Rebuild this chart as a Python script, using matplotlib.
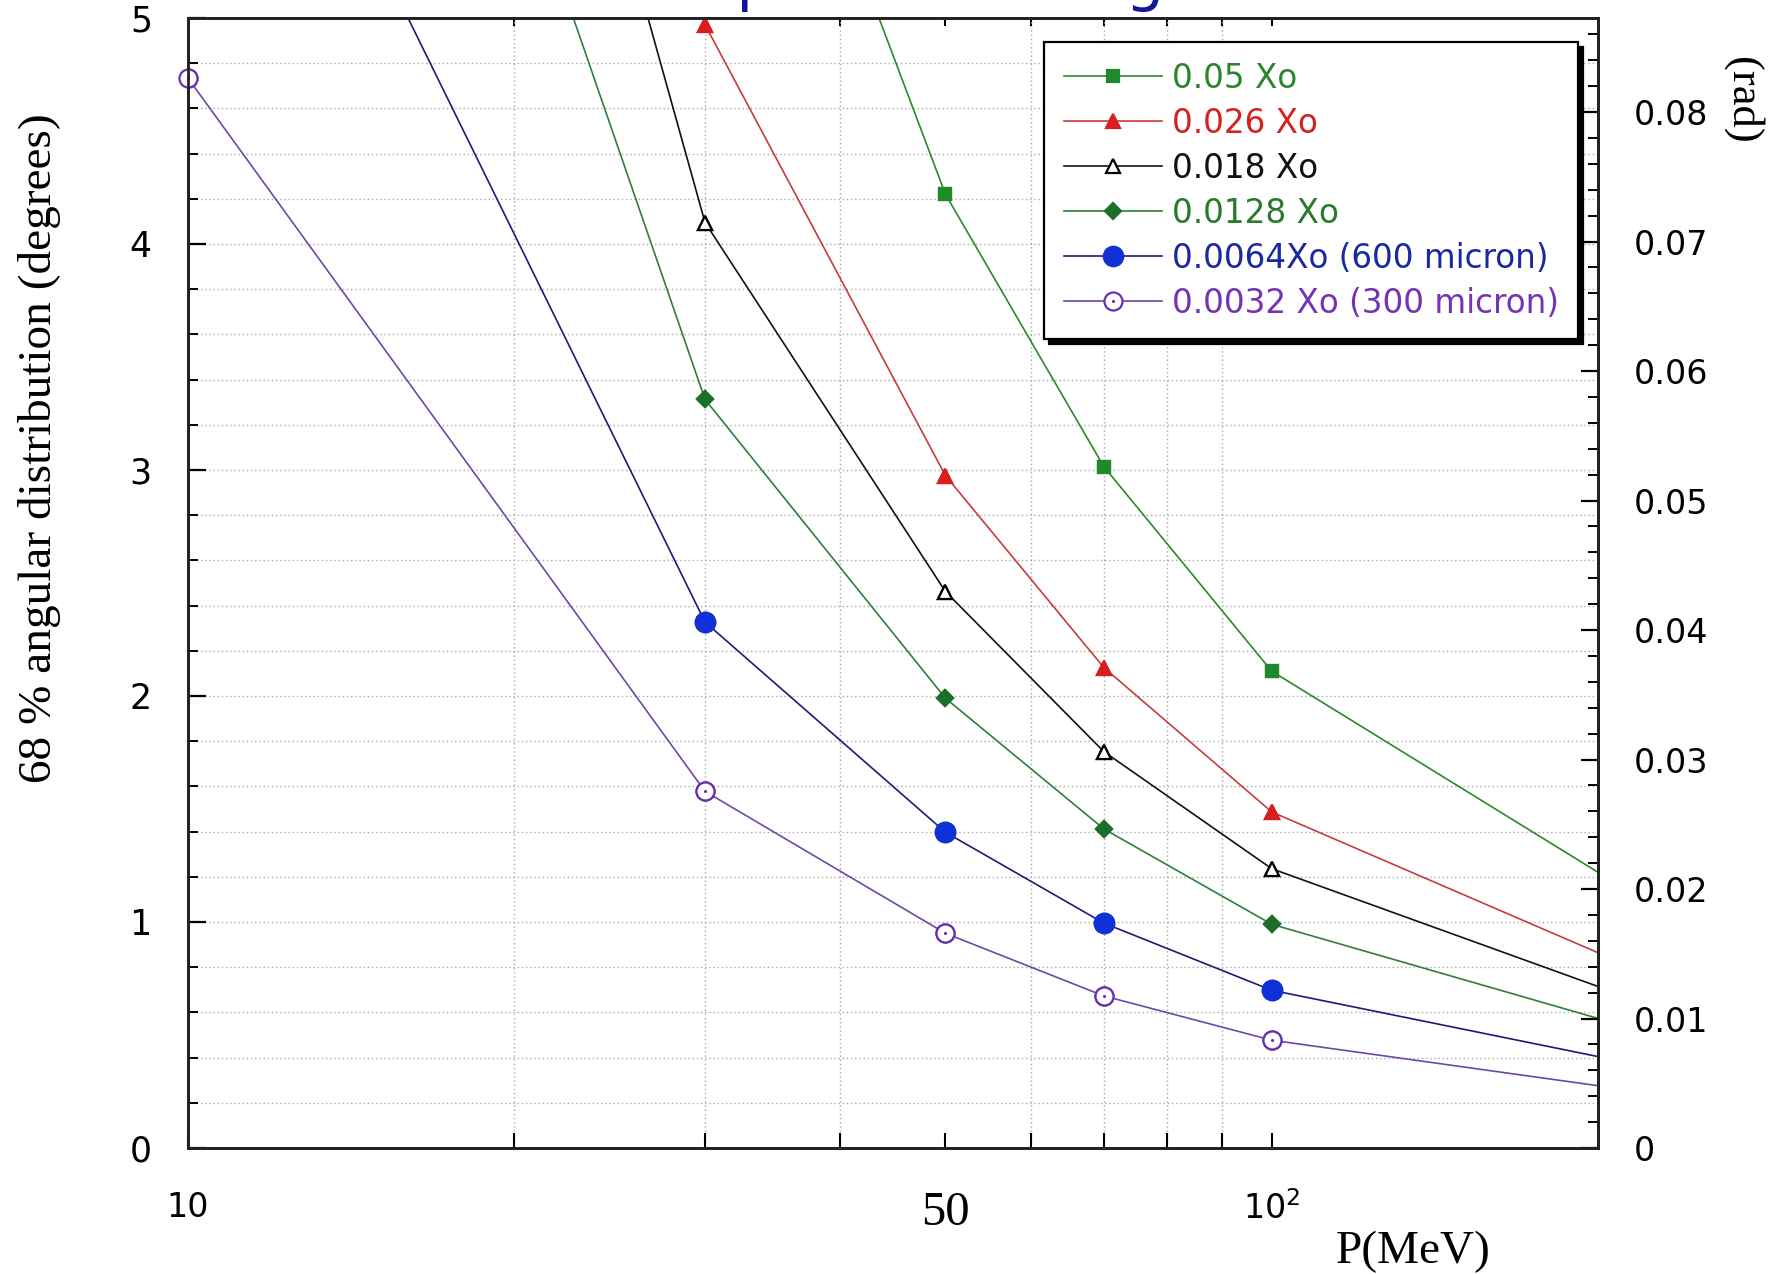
import numpy as np
import matplotlib
matplotlib.use("Agg")
import matplotlib.pyplot as plt
from matplotlib.ticker import FixedLocator, NullLocator, FuncFormatter

plt.rcParams['font.family'] = ['DejaVu Sans']
plt.rcParams['mathtext.default'] = 'regular'

# momentum points (MeV)
p_mev = [10, 30, 50, 70, 100, 300]

# 68% width of the angular distribution (degrees) per material thickness
th_0050 = [21.1, 7.04, 4.22, 3.015, 2.11, 0.70]
th_0026 = [14.9, 4.97, 2.975, 2.126, 1.487, 0.50]
th_0018 = [12.3, 4.095, 2.462, 1.754, 1.236, 0.41]
th_0128 = [9.94, 3.312, 1.99, 1.412, 0.99, 0.33]
th_0064 = [6.98, 2.327, 1.397, 0.995, 0.698, 0.233]
th_0032 = [4.734, 1.578, 0.95, 0.673, 0.477, 0.158]

labels = ['0.05 Xo', '0.026 Xo', '0.018 Xo', '0.0128 Xo',
          '0.0064Xo (600 micron)', '0.0032 Xo (300 micron)']

x_grid = [20, 30, 40, 50, 60, 70, 80, 90, 100]
x_lim = (10, 200)
y_lim = (0, 5)

fig = plt.figure(figsize=(17.8, 12.74), dpi=100)
ax = fig.add_axes([0.1056, 0.0989, 0.7921, 0.887])
ax.set_xscale('log')
ax.set_xlim(*x_lim)
ax.set_ylim(*y_lim)

styles = [
    dict(data=th_0050, color='#2a8a2a', marker='s', mfc='#1f8a2a', mec='#1f8a2a', ms=9, txt='#2a862a'),
    dict(data=th_0026, color='#c83c3c', marker='^', mfc='#d81e1e', mec='#d81e1e', ms=10, txt='#d42222'),
    dict(data=th_0018, color='#111111', marker='^', mfc='white', mec='black', ms=10, txt='#111111'),
    dict(data=th_0128, color='#2f7f3a', marker='D', mfc='#1d6e2a', mec='#1d6e2a', ms=8, txt='#2a7a2e'),
    dict(data=th_0064, color='#1c1c78', marker='o', mfc='#1030d8', mec='#1030d8', ms=14, txt='#1a2a9e'),
    dict(data=th_0032, color='#6e48a8', marker='o', mfc='white', mec='#6a30b0', ms=13, txt='#7434b4'),
]

px = np.array(p_mev, dtype=float)
handles = []
for st in styles:
    vals = np.array(st['data'])
    line, = ax.plot(px, vals, color=st['color'], lw=1.2, marker=st['marker'],
                    mfc=st['mfc'], mec=st['mec'], ms=st['ms'], mew=1.6, zorder=3)
    # markers that fall inside the frame are drawn unclipped so edge points stay whole
    inside = (px >= x_lim[0]) & (px <= x_lim[1]) & (vals <= y_lim[1])
    ax.plot(px[inside], vals[inside], ls='none', marker=st['marker'], mfc=st['mfc'],
            mec=st['mec'], ms=st['ms'], mew=1.6, clip_on=False, zorder=4)
    if st['data'] is th_0032:
        ax.plot(px[inside], vals[inside], ls='none', marker='.', ms=2.5,
                color=st['mec'], clip_on=False, zorder=5)
        dot, = ax.plot([], [], ls='none', marker='.', ms=2.5, color=st['mec'])
        handles.append((line, dot))
    else:
        handles.append(line)

# x axis: log scale, grid only on the 20..100 decade ticks
ax.xaxis.set_major_locator(FixedLocator([10, 50, 100]))
ax.xaxis.set_minor_locator(FixedLocator(x_grid))
ax.set_xticklabels(['10', '50', '$10^2$'])
ax.tick_params(axis='x', which='both', direction='in', length=11, width=1.5,
               pad=31, labelsize=24, top=False)
xl = ax.get_xticklabels()
xl[1].set_fontfamily('Liberation Serif')
xl[1].set_fontsize(35)

top = ax.secondary_xaxis('top')
top.xaxis.set_major_locator(FixedLocator(x_grid))
top.xaxis.set_minor_locator(NullLocator())
top.tick_params(direction='in', length=6, width=1.5, labeltop=False)

# y axis in degrees
ax.yaxis.set_major_locator(FixedLocator([0, 1, 2, 3, 4, 5]))
ax.yaxis.set_minor_locator(FixedLocator(np.arange(0, 5.01, 0.2)))
ax.tick_params(axis='y', which='major', direction='in', length=13, width=1.6,
               pad=26, labelsize=25, right=False)
ax.tick_params(axis='y', which='minor', direction='in', length=7, width=1.4, right=False)

ax.grid(True, which='both', axis='y', color='#a8a8a8', ls=(0, (1, 2)), lw=1.0)
ax.grid(True, which='minor', axis='x', color='#a8a8a8', ls=(0, (1, 2)), lw=1.0)
ax.set_axisbelow(True)

for sp in ax.spines.values():
    sp.set_linewidth(2.0)
    sp.set_color('#222222')

# second scale on the right in radians
ax2 = ax.twinx()
ax2.set_ylim(0, np.deg2rad(y_lim[1]))
ax2.yaxis.set_major_locator(FixedLocator(np.arange(0, 0.0801, 0.01)))
ax2.yaxis.set_minor_locator(FixedLocator(np.arange(0, 0.0873, 0.002)))
ax2.yaxis.set_major_formatter(FuncFormatter(lambda v, _: '0' if abs(v) < 1e-9 else f'{v:.2f}'))
ax2.tick_params(axis='y', which='major', direction='in', length=12, width=1.6,
                pad=26, labelsize=24)
ax2.tick_params(axis='y', which='minor', direction='in', length=7, width=1.4)
for sp in ax2.spines.values():
    sp.set_linewidth(2.0)
    sp.set_color('#222222')

leg = ax.legend(handles, labels, loc='upper right', bbox_to_anchor=(0.986, 0.9788),
                borderaxespad=0, fontsize=23.5, handlelength=3.0, handletextpad=0.3,
                labelspacing=0.37, borderpad=0.6, fancybox=False, framealpha=1,
                edgecolor='black', shadow={'ox': 3.5, 'oy': -3.5, 'color': 'black', 'alpha': 1})
leg.get_frame().set_linewidth(1.6)
for txt, st in zip(leg.get_texts(), styles):
    txt.set_color(st['txt'])
leg.set_zorder(10)

fig.text(40 / 1780, 1 - 448 / 1274, '68 % angular distribution (degrees)',
         rotation=90, ha='center', va='center', fontsize=34, family='Liberation Serif')
fig.text(1742 / 1780, 1 - 100 / 1274, '(rad)', rotation=-90, ha='center', va='center',
         fontsize=32, family='Liberation Serif')
fig.text(1413 / 1780, 1 - 1252 / 1274, 'P(MeV)', ha='center', va='center',
         fontsize=34, family='Liberation Serif')
fig.text(587 / 1780, 1 + 1 / 1274, 'Multiple Scattering', ha='left', va='baseline',
         fontsize=44, color='#14149a')

fig.savefig('out.png', dpi=100)
